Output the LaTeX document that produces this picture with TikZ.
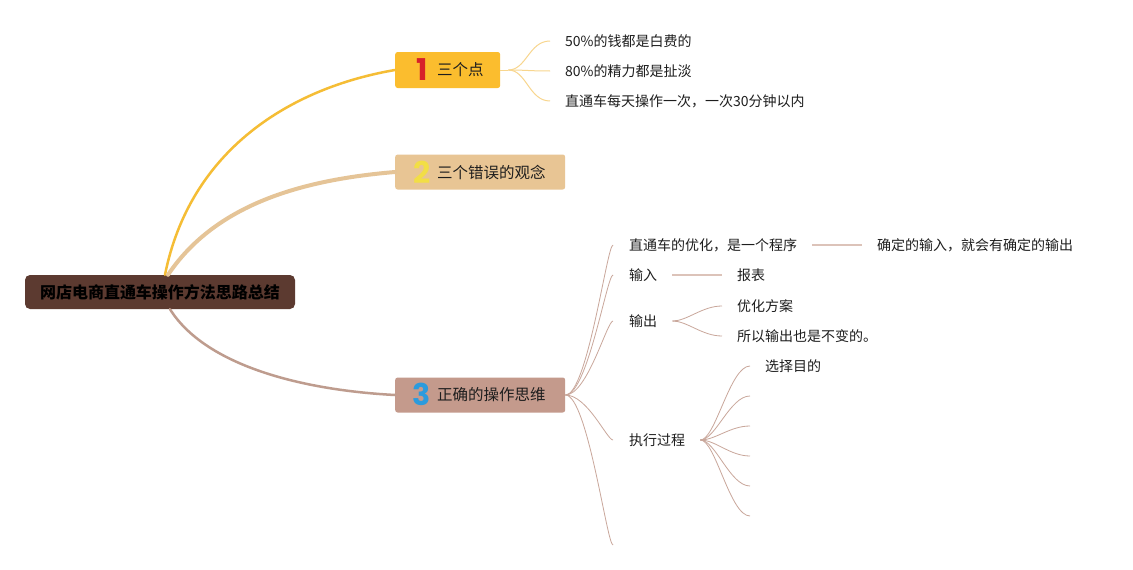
\documentclass[tikz,border=0pt]{standalone}
\usepackage{fontspec}
\setmainfont{Noto Sans CJK SC}
\newfontfamily\numfont{Poppins}
\definecolor{rootc}{HTML}{5C3A30}
\definecolor{fillA}{HTML}{FBBD2E}
\definecolor{lineA}{HTML}{F5BD35}
\definecolor{leafA}{HTML}{F8D68E}
\definecolor{fillB}{HTML}{E8C594}
\definecolor{lineB}{HTML}{E5C497}
\definecolor{fillC}{HTML}{C49A8C}
\definecolor{lineC}{HTML}{BE9C8E}
\definecolor{leafC}{HTML}{C9A79B}
\definecolor{gline}{HTML}{DCC3B9}
\definecolor{numA}{HTML}{D7202A}
\definecolor{numB}{HTML}{F2DE45}
\definecolor{numC}{HTML}{2B9BDD}
\definecolor{txt}{HTML}{1E1E1E}
\tikzset{
  rootbox/.style={fill=rootc, rounded corners=5pt, minimum width=270pt, minimum height=34pt,
    inner sep=0pt, text=black, font=\fontsize{16}{16}\selectfont\bfseries},
  bbox/.style={rounded corners=2.5pt, minimum height=35pt, inner sep=0pt, anchor=west},
  numtxt/.style={inner sep=0pt, font=\numfont\fontsize{30}{30}\selectfont\bfseries},
  btxt/.style={inner sep=0pt, anchor=west, text=txt, font=\fontsize{15.5}{15.5}\selectfont},
  leaf/.style={inner sep=0pt, anchor=west, text=txt, font=\fontsize{14}{14}\selectfont},
  brA/.style={draw=lineA, line width=2.5pt, line cap=round},
  brB/.style={draw=lineB, line width=4pt, line cap=round},
  brC/.style={draw=lineC, line width=2.5pt, line cap=round},
  lfA/.style={draw=leafA, line width=1pt},
  lfC/.style={draw=leafC, line width=0.8pt},
  glin/.style={draw=gline, line width=1.5pt}
}
\begin{document}
\begin{tikzpicture}[x=1pt,y=-1pt]
\useasboundingbox (0,0) rectangle (1133,570);
\fill[white] (0,0) rectangle (1133,570);

% root
\node[rootbox] (root) at (160,292) {网店电商直通车操作方法思路总结};

% branch boxes
\node[bbox, fill=fillA, minimum width=105pt, minimum height=36pt] (b1) at (395,70) {};
\node[bbox, fill=fillB, minimum width=170pt] (b2) at (395,172) {};
\node[bbox, fill=fillC, minimum width=170pt] (b3) at (395,395) {};

\node[numtxt, text=numA] (n1) at (422,69.5) {1};
\node[numtxt, text=numB] (n2) at (422,172) {2};
\node[numtxt, text=numC] (n3) at (422,394.5) {3};
\node[btxt] (t1) at (437,70) {三个点};
\node[btxt] (t2) at (437,172) {三个错误的观念};
\node[btxt] (t3) at (437,395) {正确的操作思维};

% main branches
\draw[brA] ([xshift=5pt]root.north) .. controls (190,150) and (290,88) .. (b1.west);
\draw[brB] ([xshift=8pt]root.north) .. controls (215,205) and (300,180) .. (b2.west);
\draw[brC] ([xshift=10pt]root.south) .. controls (205,365) and (300,390) .. (b3.west);

% branch 1 leaves
\node[leaf] (a1) at (565,41) {50\%的钱都是白费的};
\node[leaf] (a2) at (565,71) {80\%的精力都是扯淡};
\node[leaf] (a3) at (565,101) {直通车每天操作一次，一次30分钟以内};
\coordinate (hA) at ([xshift=8pt]b1.east);
\draw[lfA] (b1.east) -- (hA);
\foreach \n in {a1,a2,a3}{
  \draw[lfA] (hA) .. controls ([xshift=18pt]hA) and ([xshift=-36pt]\n.west) ..
    ([xshift=-15pt]\n.west);
}

% branch 3 children
\node[leaf] (c1) at (629,245) {直通车的优化，是一个程序};
\node[leaf] (c2) at (629,275) {输入};
\node[leaf] (c3) at (629,321) {输出};
\node[leaf] (c4) at (629,440) {执行过程};
\coordinate (c5) at (629,545);
\foreach \n in {c1,c2,c3,c4,c5}{
  \draw[lfC] (b3.east) .. controls ([xshift=22pt]b3.east) and ([xshift=-22pt]\n.west) ..
    ([xshift=-16pt]\n.west);
}

% grandchildren
\node[leaf] (g1) at (877,245) {确定的输入，就会有确定的输出};
\node[leaf] (g2) at (737,275) {报表};
\node[leaf] (g3) at (737,306) {优化方案};
\node[leaf] (g4) at (737,336) {所以输出也是不变的。};
\node[leaf] (g5) at (765,366) {选择目的};
\coordinate (e2) at (765,396);
\coordinate (e3) at (765,426);
\coordinate (e4) at (765,456);
\coordinate (e5) at (765,486);
\coordinate (e6) at (765,516);

\draw[glin] ([xshift=15pt]c1.east) -- ([xshift=-15pt]g1.west);
\draw[glin] ([xshift=15pt]c2.east) -- ([xshift=-15pt]g2.west);
\foreach \n in {g3,g4}{
  \draw[lfC] ([xshift=15pt]c3.east) .. controls ([xshift=30pt]c3.east) and ([xshift=-35pt]\n.west) ..
    ([xshift=-15pt]\n.west);
}
\foreach \n in {g5,e2,e3,e4,e5,e6}{
  \draw[lfC] ([xshift=15pt]c4.east) .. controls ([xshift=30pt]c4.east) and ([xshift=-35pt]\n.west) ..
    ([xshift=-15pt]\n.west);
}
\end{tikzpicture}
\end{document}
